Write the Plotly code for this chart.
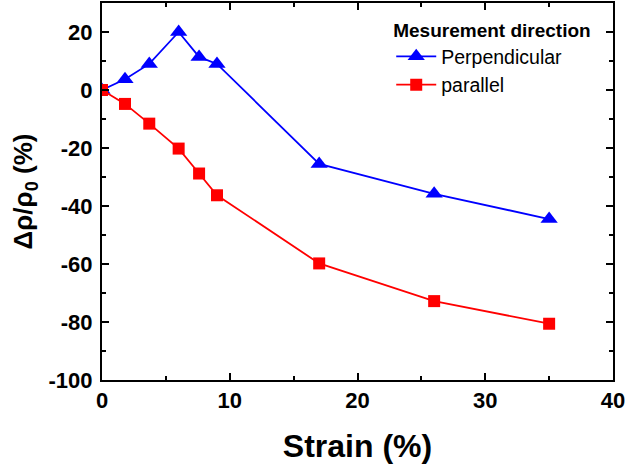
import plotly.graph_objects as go

strain = [0, 1.8, 3.7, 6, 7.6, 9, 17, 26, 35]
perpendicular = [0, 3.7, 9, 20, 11.4, 9, -25.5, -35.8, -44.5]
parallel = [0, -4.8, -11.6, -20.2, -28.8, -36.3, -59.8, -72.8, -80.6]

x_ticks = [0, 10, 20, 30, 40]
y_ticks = [-100, -80, -60, -40, -20, 0, 20]
y_ticktext = [str(v) for v in y_ticks]

font = "Liberation Sans, Arial, sans-serif"
fig = go.Figure()
fig.add_trace(go.Scatter(x=strain, y=perpendicular, mode="lines+markers", name="Perpendicular",
                         line=dict(color="#0000ff", width=1.8),
                         marker=dict(symbol="triangle-up", size=15, color="#0000ff")))
fig.add_trace(go.Scatter(x=strain, y=parallel, mode="lines+markers", name="parallel",
                         line=dict(color="#ff0000", width=1.8),
                         marker=dict(symbol="square", size=12, color="#ff0000")))

axis_common = dict(showline=True, linecolor="black", linewidth=2, mirror="ticks",
                   ticks="inside", ticklen=7, tickwidth=1.5, tickcolor="black",
                   showgrid=False, zeroline=False, automargin=False,
                   ticklabeloverflow="allow",
                   tickfont=dict(family=font, size=22, color="black", weight="bold"))
fig.update_xaxes(range=[0, 40], tickvals=x_ticks, ticktext=[str(v) for v in x_ticks],
                 minor=dict(ticks="inside", ticklen=4, dtick=5, tick0=0, tickcolor="black", tickwidth=1.5),
                 title=dict(text="Strain (%)", font=dict(family=font, size=32, color="black", weight="bold"), standoff=24),
                 **axis_common)
fig.update_yaxes(range=[-100, 30], tickvals=y_ticks, ticktext=y_ticktext, ticklabelstandoff=3,
                 minor=dict(ticks="inside", ticklen=4, dtick=10, tick0=0, tickcolor="black", tickwidth=1.5),
                 title=dict(text="Δρ/ρ<sub>0</sub> (%)", font=dict(family=font, size=26, color="black", weight="bold"), standoff=8),
                 **axis_common)
fig.update_layout(width=625, height=464, margin=dict(l=102, r=12, t=3, b=84),
                  plot_bgcolor="white", paper_bgcolor="white",
                  showlegend=True,
                  legend=dict(x=0.566, y=0.975, xanchor="left", yanchor="top",
                              bgcolor="rgba(0,0,0,0)",
                              title=dict(text="<b>Mesurement direction</b>", font=dict(family=font, size=19, color="black")),
                              font=dict(family=font, size=19.5, color="black"),
                              tracegroupgap=0, itemwidth=40))
fig.write_html("out.html", config={"displayModeBar": False},
               post_script="document.body.style.margin='0';")
